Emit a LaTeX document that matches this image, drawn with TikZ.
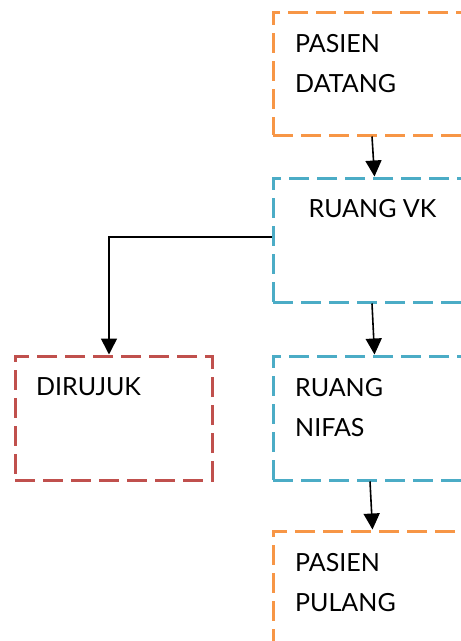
\documentclass[tikz,border=0pt]{standalone}
\usepackage{fontspec}
\setmainfont{Lato}
\usetikzlibrary{arrows.meta}
\definecolor{orng}{HTML}{F79646}
\definecolor{blu}{HTML}{4BACC6}
\definecolor{rd}{HTML}{C0504D}
\tikzset{
  boxst/.style={draw=#1, line width=3pt, dash pattern=on 20pt off 8pt, rectangle, inner sep=0pt},
  lbl/.style={font=\fontsize{25}{40}\selectfont, align=left, anchor=base west, inner sep=0pt},
  conn/.style={line width=1.6pt, -{Triangle[length=16pt,width=16pt]}}
}
\begin{document}
\begin{tikzpicture}[x=1pt,y=-1pt]
\useasboundingbox (0,0) rectangle (461,641);
\clip (0,0) rectangle (461,641);
\node[boxst=orng, minimum width=208pt, minimum height=123pt] (b1) at (377,73.5) {};
\node[boxst=blu, minimum width=208pt, minimum height=124pt] (b2) at (377,240) {};
\node[boxst=rd, minimum width=197pt, minimum height=124pt] (b3) at (113.5,418) {};
\node[boxst=blu, minimum width=208pt, minimum height=124pt] (b4) at (377,418) {};
\node[boxst=orng, minimum width=208pt, minimum height=130pt] (b5) at (377,596) {};
\node[lbl] (t1) at (295,92) {PASIEN\\DATANG};
\node[lbl, anchor=base] (t2) at (372.5,217) {RUANG VK};
\node[lbl] (t3) at (36,395) {DIRUJUK};
\node[lbl] (t4) at (295,436) {RUANG\\NIFAS};
\node[lbl] (t5) at (295,611) {PASIEN\\PULANG};
\draw[conn] ([xshift=-5pt]b1.south) -- ([xshift=-2.5pt]b2.north);
\draw[conn] ([xshift=-5pt]b2.south) -- ([xshift=-2.5pt]b4.north);
\draw[conn] ([xshift=-7pt]b4.south) -- ([xshift=-4.5pt]b5.north);
\draw[conn] ([yshift=3pt]b2.west) -| ([xshift=-4.5pt]b3.north);
\end{tikzpicture}
\end{document}
